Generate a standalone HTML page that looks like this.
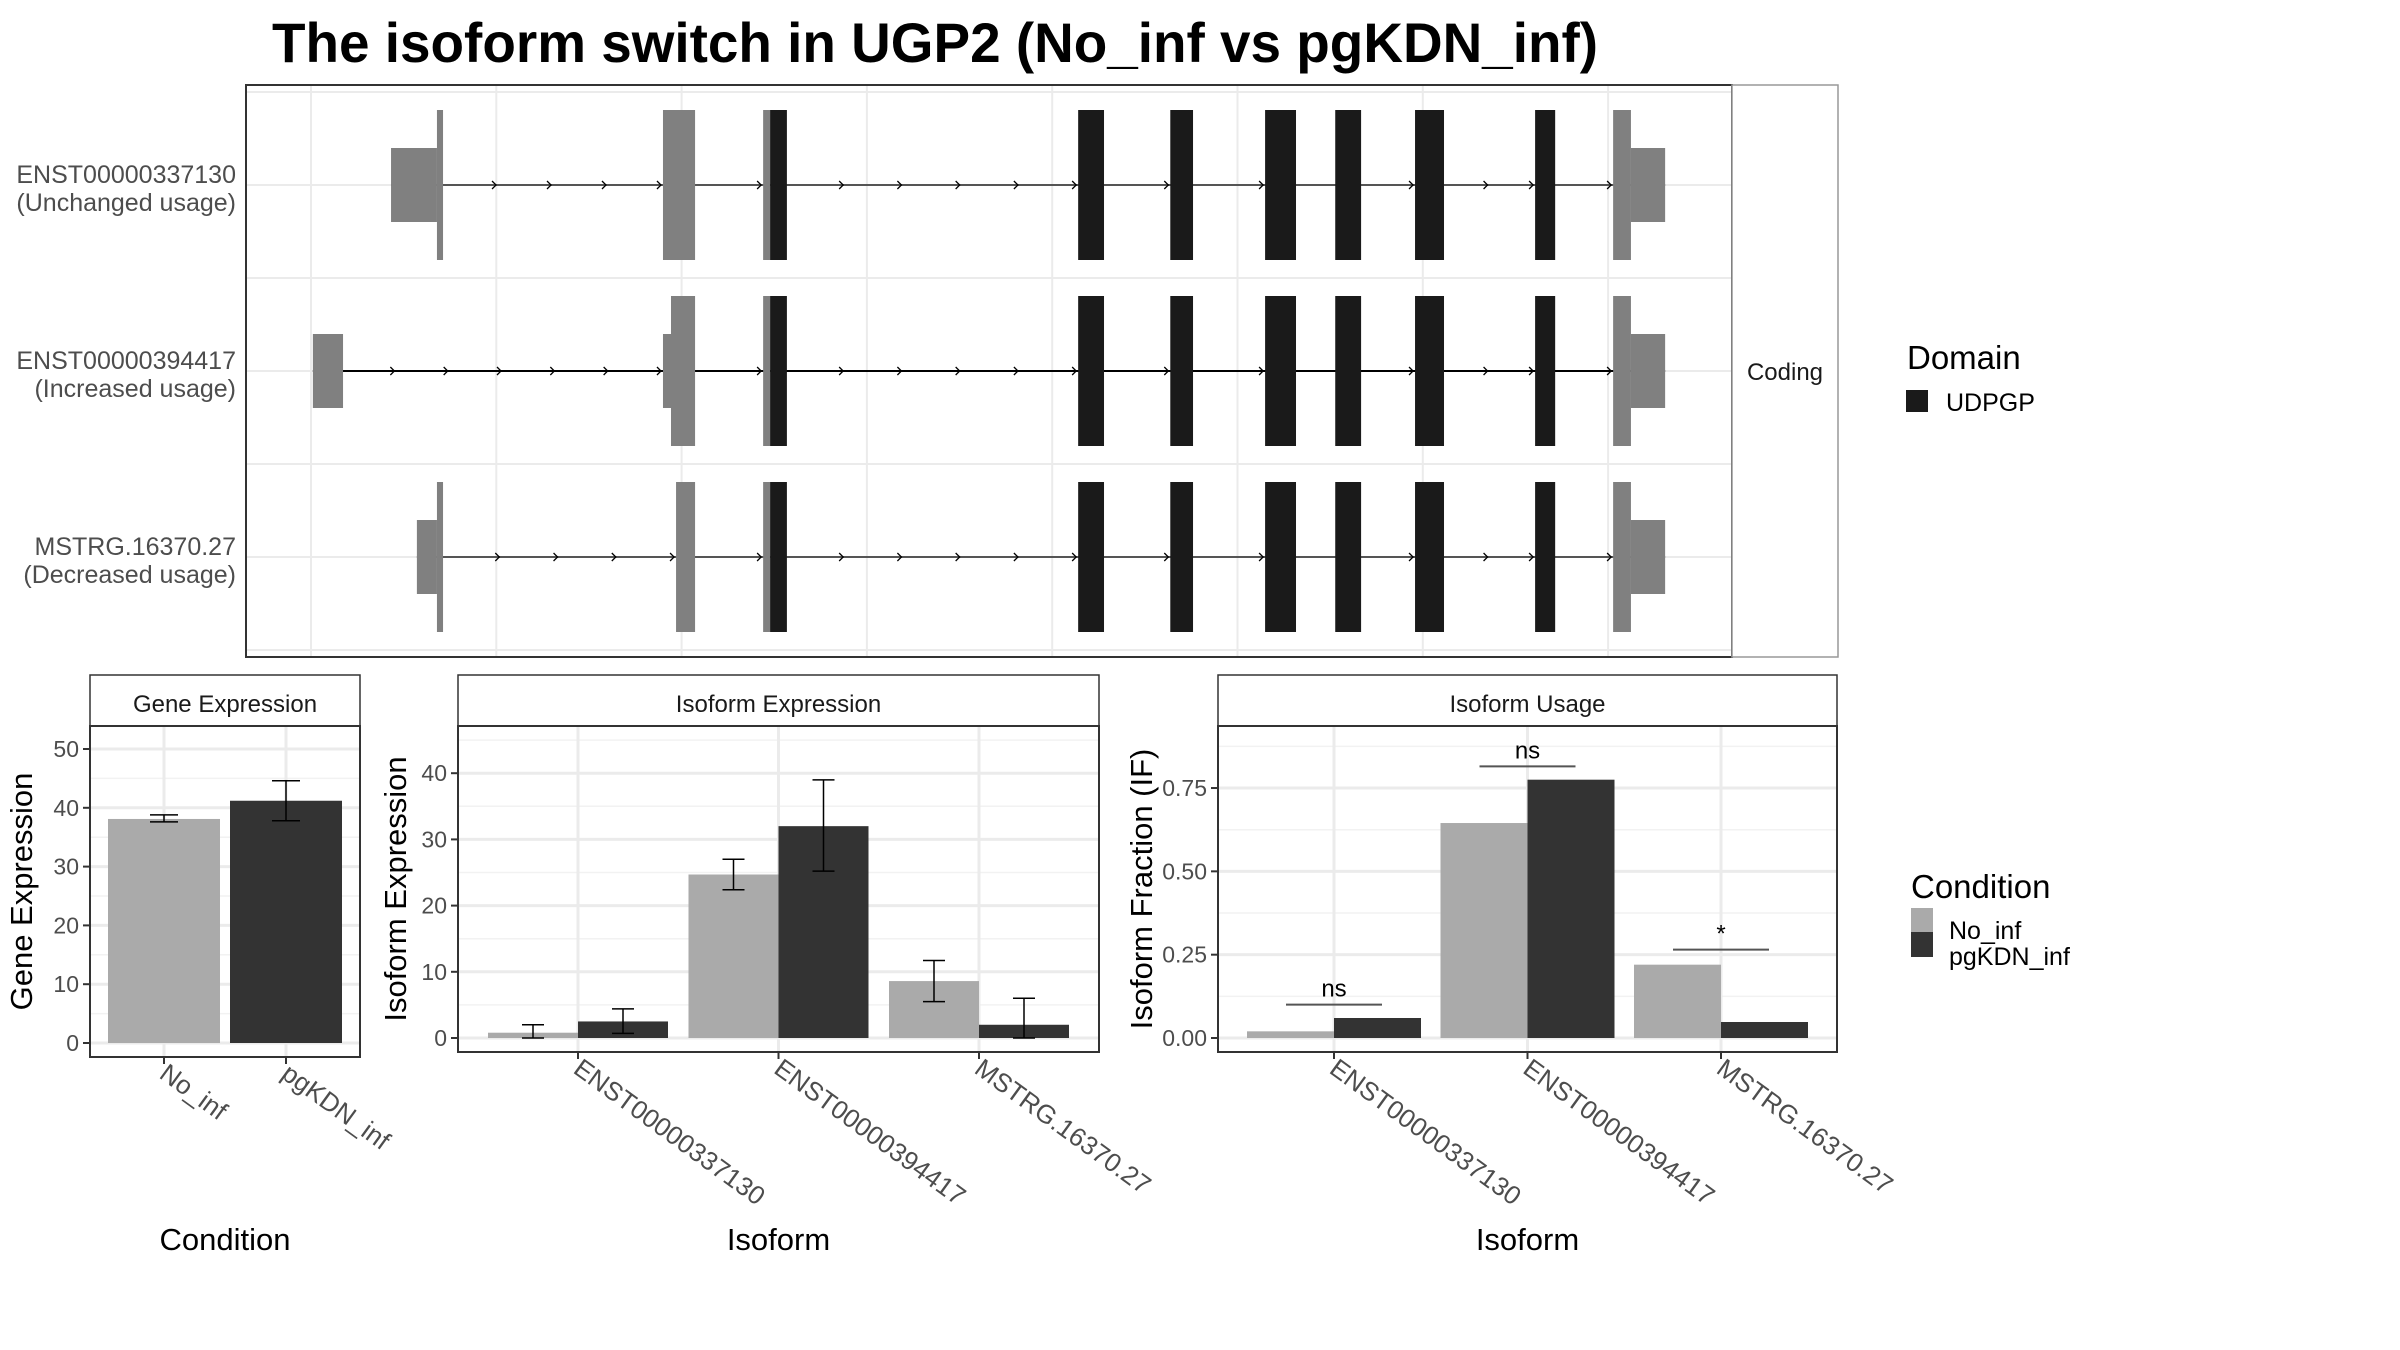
<!DOCTYPE html>
<html><head><meta charset="utf-8"><style>
html,body{margin:0;padding:0;background:#fff;}
svg{display:block;font-family:"Liberation Sans",sans-serif;}
</style></head><body>
<svg id="fig" width="2400" height="1350" viewBox="0 0 2400 1350" xmlns="http://www.w3.org/2000/svg">
<text x="272" y="62" font-size="56" font-weight="bold" textLength="1326" lengthAdjust="spacingAndGlyphs" fill="#000">The isoform switch in UGP2 (No_inf vs pgKDN_inf)</text>
<g id="top"></g>
<g id="gene"></g>
<g id="isoexp"></g>
<g id="isouse"></g>
<g>
<text x="1907" y="369" font-size="33" fill="#000">Domain</text>
<rect x="1906" y="390" width="22" height="22" fill="#1a1a1a"/>
<text x="1946" y="411" font-size="25" fill="#000">UDPGP</text>
</g>
<g>
<text x="1911" y="898" font-size="33" fill="#000">Condition</text>
<rect x="1911" y="908" width="22" height="24" fill="#aaaaaa"/>
<rect x="1911" y="932" width="22" height="25" fill="#333333"/>
<text x="1949" y="939" font-size="25" fill="#000">No_inf</text>
<text x="1949" y="965" font-size="25" fill="#000">pgKDN_inf</text>
</g>
</svg>
<script>
// ---- transcript data (genomic units 0..1000) ----
const isoNames = ["ENST00000337130","ENST00000394417","MSTRG.16370.27"];
const isoUsage = ["(Unchanged usage)","(Increased usage)","(Decreased usage)"];
const codingExons = [[352.7,364],[560,577.4],[622,637.3],[685.8,706.6],[733,750.4],[786.7,806.2],[867.5,881]];
const sharedUtrFull = [[348,352.7],[920,932]];
const sharedUtrHalf = [[932,955]];
const iso1Full = [[128.5,132.6],[280.6,302.2]];
const iso1Half = [[97.6,128.5]];
const iso2Full = [[286,302.2]];
const iso2Half = [[45,65.3],[280.6,286]];
const iso3Full = [[128.5,132.6],[289.4,302.2]];
const iso3Half = [[115,128.5]];
const isoStart = [97.6,45,115];
const isoEnd = [955,955,955];

// ---- bar chart data ----
const conditions = ["No_inf","pgKDN_inf"];
const geneValues = [38.1,41.2];
const geneErrLo = [37.6,37.8];
const geneErrHi = [38.8,44.6];
const geneTicks = [0,10,20,30,40,50];
const isoforms = ["ENST00000337130","ENST00000394417","MSTRG.16370.27"];
const expNoInf = [0.8,24.7,8.6];
const expPg = [2.5,32.0,2.0];
const expNoInfLo = [0,22.4,5.5];
const expNoInfHi = [2.0,27.0,11.7];
const expPgLo = [0.7,25.2,0];
const expPgHi = [4.4,39.0,6.0];
const expTicks = [0,10,20,30,40];
const useNoInf = [0.02,0.645,0.22];
const usePg = [0.06,0.775,0.048];
const useTicks = [0,0.25,0.5,0.75];
const useTickLabels = ["0.00","0.25","0.50","0.75"];
const sigLabels = ["ns","ns","*"];
const sigLevels = [0.10,0.815,0.265];

const NS="http://www.w3.org/2000/svg";
function mk(parent,tag,attrs,text){const e=document.createElementNS(NS,tag);for(const k in attrs)e.setAttribute(k,attrs[k]);if(text!==undefined)e.textContent=text;parent.appendChild(e);return e;}

// ---- top panel ----
(function(){
const g=document.getElementById('top');
const L=246,R=1732,T=85,B=657;
const xG=v=>L+v*(R-L)/1000;
const rowY=[185,371,557];
const bg=mk(g,'rect',{x:L,y:T,width:R-L,height:B-T,fill:'#fff'});


for(let x=311;x<R;x+=185.3){const l=mk(g,'line',{x1:x,x2:x,y1:T,y2:B,stroke:'#ebebeb','stroke-width':2});

}
[92,185,278,371,464,557,650].forEach(y=>{const l=mk(g,'line',{x1:L,x2:R,y1:y,y2:y,stroke:'#ebebeb','stroke-width':2});

});
const fulls=[iso1Full,iso2Full,iso3Full],halfs=[iso1Half,iso2Half,iso3Half];
rowY.forEach((cy,i)=>{
  const x0=xG(isoStart[i]),x1=xG(isoEnd[i]);
  const col=i===1?'#000':'#555';
  const ln=mk(g,'line',{x1:x0,x2:x1,y1:cy,y2:cy,stroke:col,'stroke-width':2});
  
  
  // chevrons
  const ex=[...fulls[i],...halfs[i],...sharedUtrFull,...codingExons].sort((a,b)=>a[0]-b[0]);
  let prev=isoStart[i];
  ex.forEach(e=>{const a=xG(prev),b=xG(e[0]);const len=b-a;
    if(len>40){const n=Math.max(1,Math.round(len/58));for(let k=1;k<=n;k++){const cx=a+len*k/(n+0.0001)-2;
      const ch=mk(g,'path',{d:`M${cx-4},${cy-4} L${cx},${cy} L${cx-4},${cy+4}`,stroke:'#000',fill:'none','stroke-width':1.3});
      
      }}
    prev=Math.max(prev,e[1]);});
  const draw=(arr,h,fill,nm)=>arr.forEach(e=>{const r=mk(g,'rect',{x:xG(e[0]),y:cy-h,width:xG(e[1])-xG(e[0]),height:2*h,fill:fill});
    
    });
  draw(halfs[i],37,'#808080','utr-exon');
  draw(sharedUtrHalf,37,'#808080','utr-exon');
  draw(fulls[i],75,'#808080','noncoding-exon');
  draw(sharedUtrFull,75,'#808080','noncoding-exon');
  draw(codingExons,75,'#1a1a1a','coding-exon-udpgp');
  const t1=mk(g,'text',{x:236,y:cy-2,'text-anchor':'end','font-size':25,fill:'#4d4d4d'},isoNames[i]);
  
  
  const t2=mk(g,'text',{x:236,y:cy+26,'text-anchor':'end','font-size':25,fill:'#4d4d4d'},isoUsage[i]);
  
  
});
const bd=mk(g,'rect',{x:L,y:T,width:R-L,height:B-T,fill:'none',stroke:'#333','stroke-width':2});


const st=mk(g,'rect',{x:R,y:T,width:1838-R,height:B-T,fill:'#fff',stroke:'#999','stroke-width':1.5});


const sl=mk(g,'text',{x:(R+1838)/2,y:380,'text-anchor':'middle','font-size':24,fill:'#1a1a1a'},'Coding');


})();

// ---- generic bar panel ----
function panel(id,o){
const g=document.getElementById(id);
const {L,R,T,B,y,ticks,tickLabels,cats,catX,stripTitle,yTitle,yTitleX,xTitle}=o;
const s=mk(g,'rect',{x:L,y:675,width:R-L,height:T-675,fill:'#fff',stroke:'#333','stroke-width':1.5});


const stt=mk(g,'text',{x:(L+R)/2,y:712,'text-anchor':'middle','font-size':24,fill:'#1a1a1a'},stripTitle);


// minor grid
for(let i=0;i<ticks.length;i++){const step=ticks[1]-ticks[0];[ticks[i]+step/2].forEach(v=>{const yy=y(v);if(yy>T&&yy<B){const l=mk(g,'line',{x1:L,x2:R,y1:yy,y2:yy,stroke:'#f2f2f2','stroke-width':1.5});

}});}
ticks.forEach((v,i)=>{const yy=y(v);
 const l=mk(g,'line',{x1:L,x2:R,y1:yy,y2:yy,stroke:'#ebebeb','stroke-width':3});
 
 
 const tk=mk(g,'line',{x1:L-7,x2:L,y1:yy,y2:yy,stroke:'#333','stroke-width':2});
 
 
 const tl=mk(g,'text',{x:L-11,y:yy+8,'text-anchor':'end','font-size':23,fill:'#4d4d4d'},tickLabels[i]);
 
 });
cats.forEach((c,i)=>{const x=catX(i);
 const l=mk(g,'line',{x1:x,x2:x,y1:T,y2:B,stroke:'#ebebeb','stroke-width':3});
 
 
 const tk=mk(g,'line',{x1:x,x2:x,y1:B,y2:B+7,stroke:'#333','stroke-width':2});
 
 
 const tl=mk(g,'text',{x:0,y:0,'font-size':26,fill:'#4d4d4d',transform:`translate(${x-6},${B+20}) rotate(36)`},c);
 
 });
const yt=mk(g,'text',{x:0,y:0,'text-anchor':'middle','font-size':31,fill:'#000',transform:`translate(${yTitleX},${(T+B)/2}) rotate(-90)`},yTitle);


const xt=mk(g,'text',{x:(L+R)/2,y:1250,'text-anchor':'middle','font-size':31,fill:'#000'},xTitle);


return g;}
function bar(g,x,w,yTop,yBase,fill,nm){const r=mk(g,'rect',{x:x,y:Math.min(yTop,yBase),width:w,height:Math.abs(yBase-yTop),fill:fill});

}
function err(g,cx,y1,y2,hw){const p=mk(g,'path',{d:`M${cx-hw},${y1}H${cx+hw}M${cx},${y1}V${y2}M${cx-hw},${y2}H${cx+hw}`,stroke:'#000',fill:'none','stroke-width':1.5});

}
function border(g,L,T,R,B){const r=mk(g,'rect',{x:L,y:T,width:R-L,height:B-T,fill:'none',stroke:'#333','stroke-width':2});

}

// gene expression
(function(){
const L=90,R=360,T=726,B=1057;
const y=v=>1043-v*5.88;
const catX=i=>164+i*122;
const g=panel('gene',{L,R,T,B,y,ticks:geneTicks,tickLabels:geneTicks.map(String),cats:conditions,catX,stripTitle:'Gene Expression',yTitle:'Gene Expression',yTitleX:32,xTitle:'Condition'});
const fills=['#aaaaaa','#333333'];
conditions.forEach((c,i)=>{bar(g,catX(i)-56,112,y(geneValues[i]),y(0),fills[i],'bar-gene-'+c);err(g,catX(i),y(geneErrHi[i]),y(geneErrLo[i]),14);});
border(g,L,T,R,B);
})();

// isoform expression
(function(){
const L=458,R=1099,T=726,B=1052;
const y=v=>1038-v*6.62;
const catX=i=>578+i*200.5;
const g=panel('isoexp',{L,R,T,B,y,ticks:expTicks,tickLabels:expTicks.map(String),cats:isoforms,catX,stripTitle:'Isoform Expression',yTitle:'Isoform Expression',yTitleX:406,xTitle:'Isoform'});
isoforms.forEach((c,i)=>{const x=catX(i);
 bar(g,x-90,90,y(expNoInf[i]),y(0),'#aaaaaa','bar-exp-no-inf');
 bar(g,x,90,y(expPg[i]),y(0),'#333333','bar-exp-pgkdn-inf');
 err(g,x-45,y(expNoInfHi[i]),y(expNoInfLo[i]),11);
 err(g,x+45,y(expPgHi[i]),y(expPgLo[i]),11);});
border(g,L,T,R,B);
})();

// isoform usage
(function(){
const L=1218,R=1837,T=726,B=1052;
const y=v=>1038-v*333.3;
const catX=i=>1334+i*193.5;
const g=panel('isouse',{L,R,T,B,y,ticks:useTicks,tickLabels:useTickLabels,cats:isoforms,catX,stripTitle:'Isoform Usage',yTitle:'Isoform Fraction (IF)',yTitleX:1152,xTitle:'Isoform'});
isoforms.forEach((c,i)=>{const x=catX(i);
 bar(g,x-87,87,y(useNoInf[i]),y(0),'#aaaaaa','bar-usage-no-inf');
 bar(g,x,87,y(usePg[i]),y(0),'#333333','bar-usage-pgkdn-inf');
 const sl=mk(g,'line',{x1:x-48,x2:x+48,y1:y(sigLevels[i]),y2:y(sigLevels[i]),stroke:'#555','stroke-width':2});
 
 
 const st=mk(g,'text',{x:x,y:y(sigLevels[i])-8,'text-anchor':'middle','font-size':24,fill:'#000'},sigLabels[i]);
 
 });
border(g,L,T,R,B);
})();
</script>
</body></html>
